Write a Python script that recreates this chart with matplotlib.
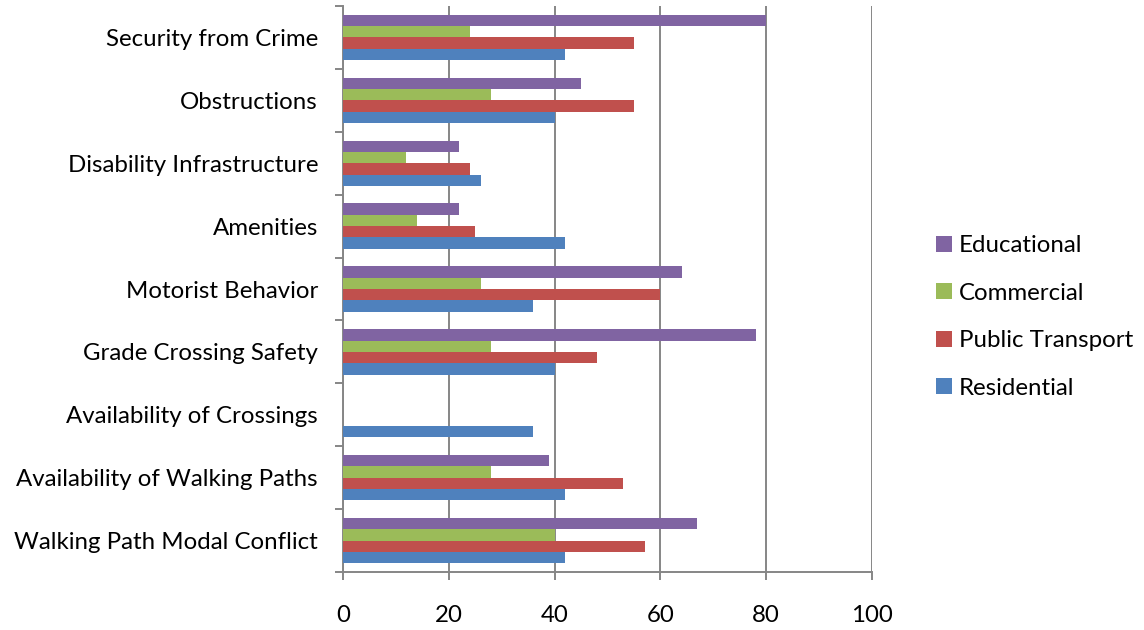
import matplotlib
matplotlib.use("Agg")
import matplotlib.pyplot as plt
from matplotlib.patches import Patch
import numpy as np

plt.rcParams['font.family'] = ['Lato', 'DejaVu Sans']

categories = [
    "Walking Path Modal Conflict",
    "Availability of Walking Paths",
    "Availability of Crossings",
    "Grade Crossing Safety",
    "Motorist Behavior",
    "Amenities",
    "Disability Infrastructure",
    "Obstructions",
    "Security from Crime",
]

residential = [42, 42, 36, 40, 36, 42, 26, 40, 42]
public_transport = [57, 53, 0, 48, 60, 25, 24, 55, 55]
commercial = [40, 28, 0, 28, 26, 14, 12, 28, 24]
educational = [67, 39, 0, 78, 64, 22, 22, 45, 80]

series_names = ["Residential", "Public Transport", "Commercial", "Educational"]
series_values = [residential, public_transport, commercial, educational]
colors = ["#4F81BD", "#C0504D", "#9BBB59", "#8064A2"]

x_ticks = [0, 20, 40, 60, 80, 100]

FS = 17.3

fig = plt.figure(figsize=(11.44, 6.30), dpi=100)
ax = fig.add_axes([343 / 1144, 1 - 572 / 630, (872 - 343) / 1144, (572 - 6) / 630])

y = np.arange(len(categories))
bar_h = 0.18
offsets = [-1.5, -0.5, 0.5, 1.5]
for vals, off, col, name in zip(series_values, offsets, colors, series_names):
    ax.barh(y + off * bar_h, vals, height=bar_h, color=col, label=name, zorder=3)

grid_col = "#868686"
ax.set_xlim(0, 100)
ax.set_ylim(-0.5, len(categories) - 0.5)
ax.set_xticks(x_ticks)
ax.set_xticklabels([str(t) for t in x_ticks])
ax.set_yticks(y)
ax.set_yticklabels(categories)
ax.set_yticks(np.arange(-0.5, len(categories), 1.0), minor=True)

ax.xaxis.grid(True, color=grid_col, linewidth=1.4, zorder=1)
ax.set_axisbelow(True)

for s in ["top", "right"]:
    ax.spines[s].set_visible(False)
for s in ["left", "bottom"]:
    ax.spines[s].set_color(grid_col)
    ax.spines[s].set_linewidth(1.4)

ax.tick_params(axis="y", which="major", length=0, pad=18, labelsize=FS, labelcolor="black")
ax.tick_params(axis="y", which="minor", length=5.5, width=1.4, color=grid_col, direction="out")
ax.tick_params(axis="x", which="major", length=5.5, width=1.4, color=grid_col, pad=18.5,
               labelsize=FS, labelcolor="black")

handles = [Patch(facecolor=c, edgecolor="none") for c in colors[::-1]]
fig.legend(handles, series_names[::-1], loc="center left",
           bbox_to_anchor=(936 / 1144, 1 - 317 / 630), frameon=False,
           fontsize=FS, handlelength=0.65, handleheight=0.65, handletextpad=0.3,
           labelspacing=1.1, borderpad=0, borderaxespad=0)

fig.savefig("out.png", dpi=100)
